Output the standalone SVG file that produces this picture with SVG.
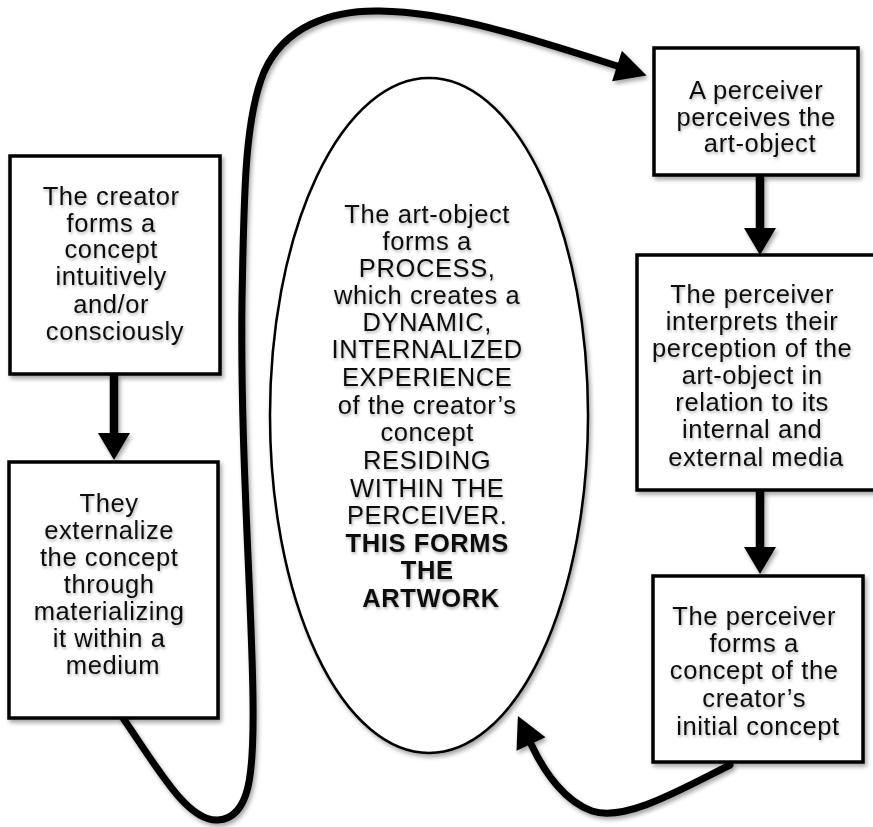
<svg xmlns="http://www.w3.org/2000/svg" width="873" height="827" viewBox="0 0 873 827">
  <defs>
    <filter id="shadow" filterUnits="userSpaceOnUse" x="0" y="0" width="873" height="827">
      <feDropShadow dx="2" dy="3" stdDeviation="2.2" flood-color="#000" flood-opacity="0.35"/>
    </filter>
    <filter id="textShadow" x="-10%" y="-20%" width="120%" height="150%">
      <feDropShadow dx="1" dy="2" stdDeviation="1.6" flood-color="#000" flood-opacity="0.3"/>
    </filter>
    <marker id="head" markerUnits="userSpaceOnUse" markerWidth="34" markerHeight="36" refX="0" refY="16" orient="auto" overflow="visible">
      <path d="M0,0 L31,16 L0,32 Z" fill="#000"/>
    </marker>
    <marker id="headDown" markerUnits="userSpaceOnUse" markerWidth="30" markerHeight="34" refX="0" refY="16" orient="auto" overflow="visible">
      <path d="M0,0 L27,16 L0,32 Z" fill="#000"/>
    </marker>
  </defs>
  <style>
    .box { fill: #fff; stroke: #000; stroke-width: 3.5; filter: url(#shadow); }
    .oval { fill: #fff; stroke: #000; stroke-width: 2.5; filter: url(#shadow); }
    .label { font-family: "Liberation Sans", Arial, sans-serif; font-size: 25.5px; fill: #111; text-anchor: middle; letter-spacing: 0.6px; filter: url(#textShadow); }
    .bold { font-weight: bold; }
    .curve { fill: none; stroke: #000; stroke-width: 7; stroke-linecap: round; filter: url(#shadow); marker-end: url(#head); }
    .straight { fill: none; stroke: #000; stroke-width: 8.5; filter: url(#shadow); marker-end: url(#headDown); }
  </style>

  <rect width="873" height="827" fill="#fff"/>

  <!-- connectors -->
  <g id="connectors">
    <path class="curve" d="M123,718 C160,772 188,822 218,820 C250,818 254,775 253,700 C252,600 240,450 242,300 C244,200 244,120 264,72 C284,27 330,10 380,11 C450,12 530,38 617,66"/>
    <path class="curve" d="M730,765 C680,790 625,822 592,811 C566,802 545,774 531,744"/>
    <path class="straight" d="M114,374 L114,433"/>
    <path class="straight" d="M760,175 L760,228"/>
    <path class="straight" d="M760,490 L760,547"/>
  </g>

  <!-- central artwork ellipse -->
  <g id="artwork">
    <ellipse class="oval" cx="429" cy="415.5" rx="159" ry="337.5"/>
    <text class="label">
      <tspan x="431" y="223">The art-object</tspan>
      <tspan x="431" y="250">forms a</tspan>
      <tspan x="431" y="277">PROCESS,</tspan>
      <tspan x="431" y="304">which creates a</tspan>
      <tspan x="431" y="331">DYNAMIC,</tspan>
      <tspan x="431" y="358">INTERNALIZED</tspan>
      <tspan x="431" y="386">EXPERIENCE</tspan>
      <tspan x="431" y="414">of the creator’s</tspan>
      <tspan x="431" y="441">concept</tspan>
      <tspan x="431" y="469">RESIDING</tspan>
      <tspan x="431" y="497">WITHIN THE</tspan>
      <tspan x="431" y="524">PERCEIVER.</tspan>
      <tspan x="431" y="552" class="bold">THIS FORMS</tspan>
      <tspan x="431" y="579" class="bold">THE</tspan>
      <tspan x="431" y="607" class="bold">ARTWORK</tspan>
    </text>
  </g>

  <!-- step 1 -->
  <g id="creator-concept">
    <rect class="box" x="10" y="156" width="210" height="218"/>
    <text class="label">
      <tspan x="115" y="205">The creator</tspan>
      <tspan x="115" y="232">forms a</tspan>
      <tspan x="115" y="258">concept</tspan>
      <tspan x="115" y="285">intuitively</tspan>
      <tspan x="115" y="313">and/or</tspan>
      <tspan x="115" y="340">consciously</tspan>
    </text>
  </g>

  <!-- step 2 -->
  <g id="externalize">
    <rect class="box" x="9" y="462" width="209" height="256"/>
    <text class="label">
      <tspan x="113" y="512">They</tspan>
      <tspan x="113" y="539">externalize</tspan>
      <tspan x="113" y="566">the concept</tspan>
      <tspan x="113" y="593">through</tspan>
      <tspan x="113" y="620">materializing</tspan>
      <tspan x="113" y="647">it within a</tspan>
      <tspan x="113" y="674">medium</tspan>
    </text>
  </g>

  <!-- step 3 -->
  <g id="perceives">
    <rect class="box" x="654" y="48" width="204" height="127"/>
    <text class="label">
      <tspan x="760" y="99">A perceiver</tspan>
      <tspan x="760" y="125.5">perceives the</tspan>
      <tspan x="760" y="152">art-object</tspan>
    </text>
  </g>

  <!-- step 4 -->
  <g id="interprets">
    <rect class="box" x="637" y="255" width="244" height="235"/>
    <text class="label">
      <tspan x="756" y="303">The perceiver</tspan>
      <tspan x="756" y="330">interprets their</tspan>
      <tspan x="756" y="357">perception of the</tspan>
      <tspan x="756" y="384">art-object in</tspan>
      <tspan x="756" y="411">relation to its</tspan>
      <tspan x="756" y="438">internal and</tspan>
      <tspan x="756" y="466">external media</tspan>
    </text>
  </g>

  <!-- step 5 -->
  <g id="forms-concept">
    <rect class="box" x="653" y="576" width="210" height="186"/>
    <text class="label">
      <tspan x="758" y="625">The perceiver</tspan>
      <tspan x="758" y="652">forms a</tspan>
      <tspan x="758" y="679">concept of the</tspan>
      <tspan x="758" y="707">creator’s</tspan>
      <tspan x="758" y="735">initial concept</tspan>
    </text>
  </g>
</svg>
